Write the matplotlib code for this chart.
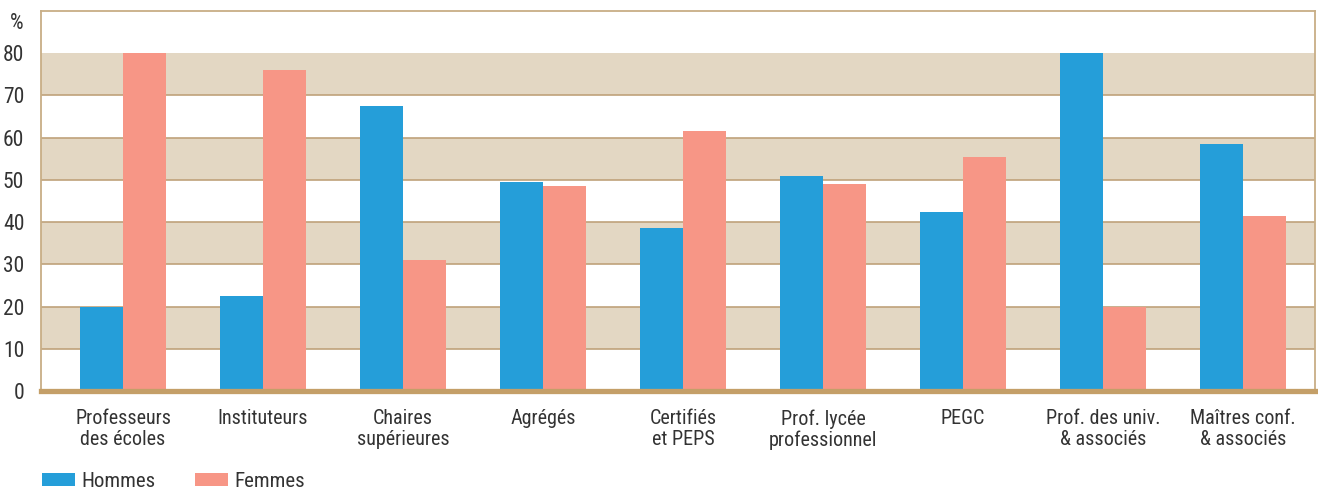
import numpy as np
import matplotlib.pyplot as plt

categories = ['Professeurs\ndes écoles', 'Instituteurs', 'Chaires\nsupérieures', 'Agrégés',
              'Certifiés\net PEPS', 'Prof. lycée\nprofessionnel', 'PEGC',
              'Prof. des univ.\n& associés', 'Maîtres conf.\n& associés']
hommes = [20, 22.5, 67.5, 49.5, 38.5, 51, 42.5, 80, 58.5]
femmes = [80, 76, 31, 48.5, 61.5, 49, 55.5, 20, 41.5]
yticks = [0, 10, 20, 30, 40, 50, 60, 70, 80]

plt.rcParams['font.family'] = ['Roboto Condensed', 'Open Sans', 'DejaVu Sans']
plt.rcParams['font.stretch'] = 'condensed'

blue = '#259ed9'
pink = '#f79686'
band = '#e3d7c3'
tan = '#bfa27a'
txt = '#333333'

fig = plt.figure(figsize=(13.18, 4.93), dpi=100)
ax = fig.add_axes([0.0311, 0.2069, 0.9666, 0.7708])

x = np.arange(len(categories))
w = 0.307
for lo in (10, 30, 50, 70):
    ax.axhspan(lo, lo + 10, color=band, zorder=0, lw=0)
for y in range(10, 80, 10):
    ax.axhline(y, color=tan, lw=1.2, zorder=1)

ax.bar(x - w / 2, hommes, w, color=blue, zorder=2, label='Hommes')
ax.bar(x + w / 2, femmes, w, color=pink, zorder=2, label='Femmes')

ax.set_xlim(-0.586, 8.514)
ax.set_ylim(0, 90)
ax.set_yticks(yticks)
ax.set_xticks(x)
ax.set_xticklabels(categories, fontsize=14.5, color=txt, linespacing=1.1)
ax.tick_params(axis='both', length=0, colors=txt)
ax.tick_params(axis='y', pad=12, labelsize=15.5)
ax.tick_params(axis='x', pad=13)
ax.text(-0.019, 0.995, '%', transform=ax.transAxes, fontsize=15.5, color=txt,
        ha='center', va='top')

for s in ('left', 'right', 'top'):
    ax.spines[s].set_color('#c8ae86')
    ax.spines[s].set_linewidth(1.3)
ax.spines['bottom'].set_color('#c49f68')
ax.spines['bottom'].set_linewidth(3.8)
ax.spines['bottom'].set_zorder(5)

fig.legend(loc='lower left', bbox_to_anchor=(0.0285, -0.004), ncol=2, frameon=False,
           fontsize=15, handlelength=1.6, handleheight=0.55, columnspacing=1.9,
           handletextpad=0.3, labelcolor=txt, borderpad=0.2, borderaxespad=0)

fig.savefig('out.png', dpi=100)
